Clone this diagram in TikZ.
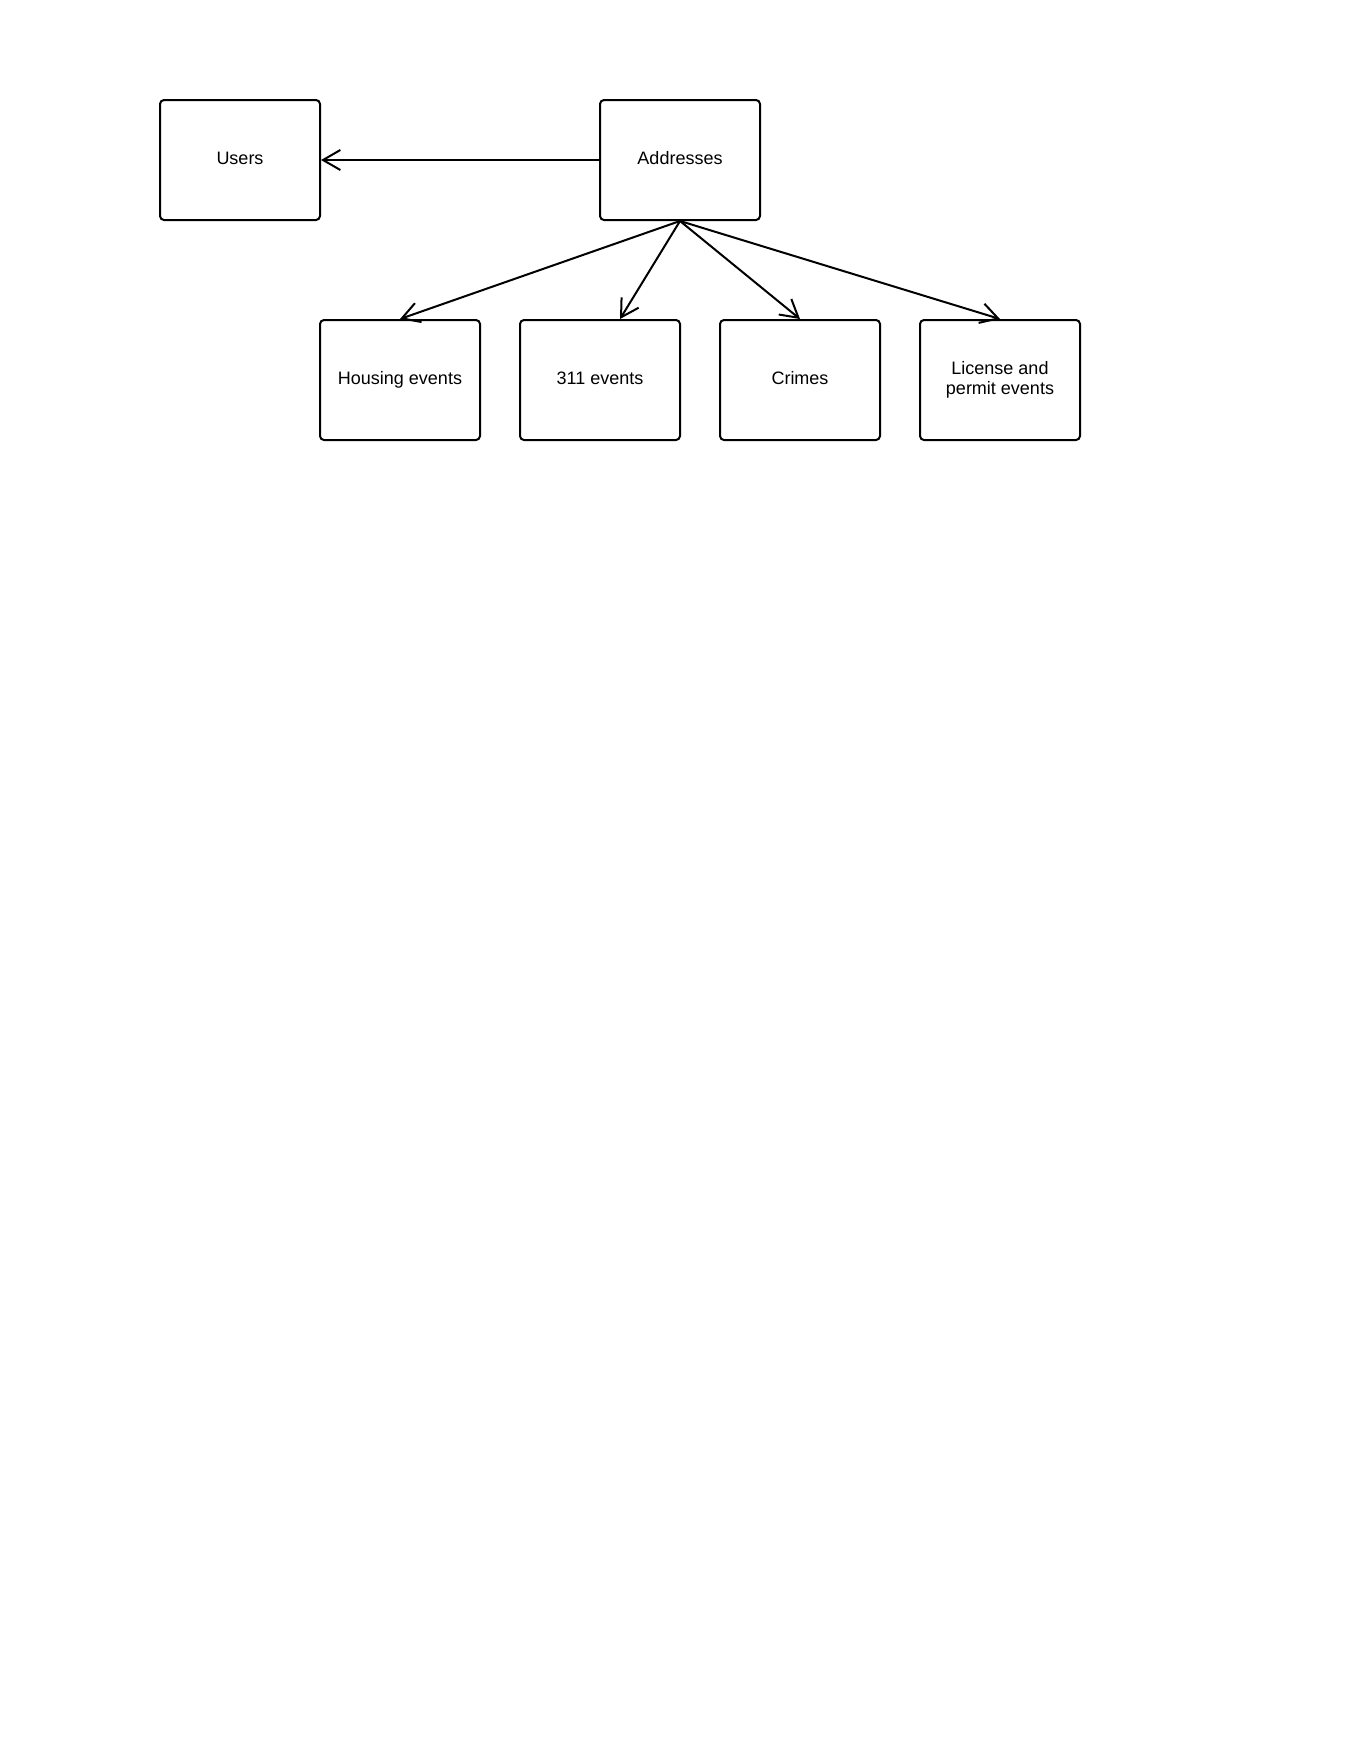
\documentclass[tikz,border=0pt]{standalone}
\usepackage{fontspec}
\setmainfont{Liberation Sans}
\usetikzlibrary{arrows.meta,calc}
\begin{document}
\begin{tikzpicture}[x=0.75pt,y=-0.75pt,
  box/.style={draw,line width=1.5pt,rounded corners=3pt,minimum width=120pt,minimum height=90pt,inner sep=0pt,align=center,font=\fontsize{13.5}{15.5}\selectfont},
  oneline/.style={text height=10pt,text depth=3.7pt},
  conn/.style={line width=1.5pt,-{Straight Barb[length=13pt,width=15pt]}}]
\useasboundingbox (0,0) rectangle (1360,1760);
\node[box,oneline] (users) at (240,160) {Users};
\node[box,oneline] (addr) at (680,160) {Addresses};
\node[box,oneline] (house) at (400,380) {Housing events};
\node[box,oneline] (b311) at (600,380) {311 events};
\node[box,oneline] (crimes) at (800,380) {Crimes};
\node[box] (lic) at (1000,380) {License and\\permit events};
\draw[conn] (addr.west) -- (users.east);
\draw[conn] (addr.south) -- (house.north);
\draw[conn] (addr.south) -- ($(b311.north)+(20,0)$);
\draw[conn] (addr.south) -- (crimes.north);
\draw[conn] (addr.south) -- (lic.north);
\end{tikzpicture}
\end{document}
